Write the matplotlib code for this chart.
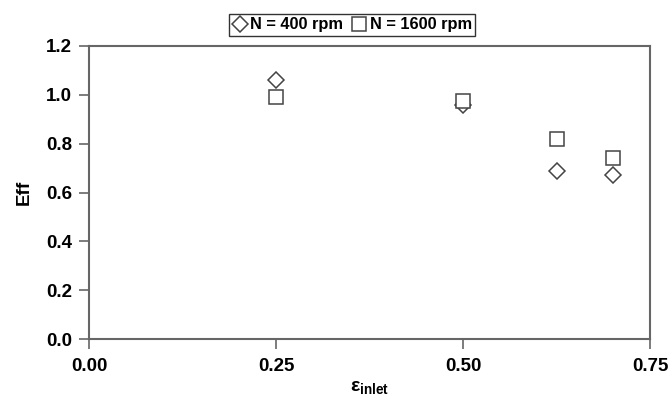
import matplotlib
matplotlib.use("Agg")
import matplotlib.pyplot as plt

plt.rcParams['font.family'] = ['Liberation Sans', 'DejaVu Sans']
plt.rcParams['mathtext.fontset'] = 'custom'
plt.rcParams['mathtext.bf'] = 'Liberation Sans:bold'
plt.rcParams['mathtext.rm'] = 'Liberation Sans'

# data
eps_inlet = [0.25, 0.50, 0.625, 0.70]
eff_400 = [1.06, 0.96, 0.69, 0.67]
eff_1600 = [0.99, 0.975, 0.82, 0.74]
x_ticks = [0.00, 0.25, 0.50, 0.75]
y_ticks = [0.0, 0.2, 0.4, 0.6, 0.8, 1.0, 1.2]

fig = plt.figure(figsize=(6.72, 4.03), dpi=100)
ax = fig.add_axes([89 / 672, 1 - 339 / 403, (650 - 89) / 672, (339 - 46) / 403])

edge = '#444444'
ax.plot(eps_inlet, eff_400, linestyle='none', marker='D', markersize=8,
        markerfacecolor='white', markeredgecolor=edge, markeredgewidth=1.1,
        label='N = 400 rpm')
ax.plot(eps_inlet, eff_1600, linestyle='none', marker='s', markersize=9.5,
        markerfacecolor='white', markeredgecolor=edge, markeredgewidth=1.1,
        label='N = 1600 rpm')

ax.set_xlim(0, 0.75)
ax.set_ylim(0, 1.2)
ax.set_xticks(x_ticks)
ax.set_xticklabels(['%.2f' % v for v in x_ticks])
ax.set_yticks(y_ticks)
ax.set_yticklabels(['%.1f' % v for v in y_ticks])

for s in ax.spines.values():
    s.set_color('#666666')
    s.set_linewidth(1.5)
ax.tick_params(direction='out', length=7, width=1.2, color='#666666',
               labelsize=13.5, top=False, right=False)
ax.tick_params(axis='x', pad=7)
ax.tick_params(axis='y', pad=5)
for lab in ax.get_xticklabels() + ax.get_yticklabels():
    lab.set_fontweight('bold')

ax.set_ylabel('Eff', fontsize=13.5, fontweight='bold', labelpad=10)
ax.set_xlabel(r'ε$_{\mathbf{inlet}}$', fontsize=14, fontweight='bold', labelpad=3)

leg = fig.legend(loc='center', bbox_to_anchor=(352 / 672, 1 - 25 / 403), ncol=2,
                 frameon=True, fancybox=False, edgecolor='black',
                 prop={'weight': 'bold', 'size': 11.8}, handlelength=0.9,
                 handletextpad=0.2, columnspacing=0.5, borderpad=0.2,
                 borderaxespad=0)
leg.get_frame().set_linewidth(1.0)

fig.savefig('out.png', dpi=100)
